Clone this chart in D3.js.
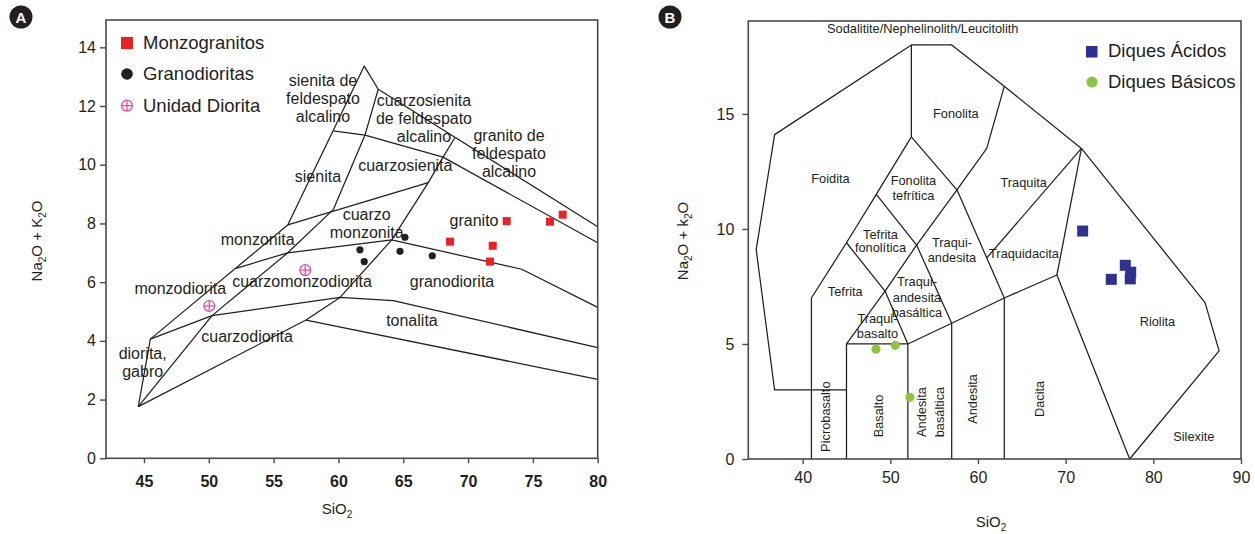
<!DOCTYPE html>
<html><head><meta charset="utf-8">
<script src="https://cdn.jsdelivr.net/npm/d3@7"></script>
<style>
body{margin:0;background:#fff;}
svg text{font-family:"Liberation Sans",Arial,Helvetica,sans-serif;fill:#231f20;}
</style></head><body>
<svg id="chart" width="1255" height="534"></svg>
<script>
// ---------- Panel A: plutonic TAS diagram ----------
const plutXTicks = [45, 50, 55, 60, 65, 70, 75, 80];
const plutYTicks = [0, 2, 4, 6, 8, 10, 12, 14];

const monzogranitoSiO2 = [72.98, 76.32, 77.30, 68.61, 71.90, 71.69];
const monzogranitoAlk  = [8.08, 8.06, 8.30, 7.38, 7.24, 6.70];
const granodioritaSiO2 = [61.66, 61.99, 64.75, 65.13, 67.24];
const granodioritaAlk  = [7.10, 6.70, 7.05, 7.53, 6.90];
const dioritaSiO2 = [50.04, 57.44];
const dioritaAlk  = [5.19, 6.41];

// field boundaries (SiO2, Na2O+K2O)
const plutBoundaries = [
  [[44.56,1.76],[45.49,4.06],[56.09,7.95],[61.99,13.36],[63.07,12.57],[80,7.89]],
  [[63.07,12.57],[62.05,11.01],[59.60,8.47],[56.09,7.00],[50.25,4.86],[44.56,1.76]],
  [[45.49,4.06],[50.25,4.86],[60.12,5.48],[64.23,5.37],[80,3.77]],
  [[52.10,6.47],[56.09,7.00],[64.11,7.44],[74.14,6.44],[80,5.14]],
  [[44.56,1.76],[57.50,4.71],[60.12,5.48],[64.11,7.44],[66.93,9.39],[68.07,10.26],[68.98,10.92]],
  [[56.09,7.95],[66.93,9.39]],
  [[59.60,11.15],[62.05,11.01],[68.07,10.26],[80,7.34]],
  [[57.50,4.71],[80,2.69]]
];

const plutFieldNames = [
  ["sienita de","feldespato","alcalino"],
  ["cuarzosienita","de feldespato","alcalino"],
  ["granito de","feldespato","alcalino"],
  ["sienita"],
  ["cuarzosienita"],
  ["cuarzo","monzonita"],
  ["granito"],
  ["monzonita"],
  ["monzodiorita"],
  ["cuarzomonzodiorita"],
  ["granodiorita"],
  ["cuarzodiorita"],
  ["tonalita"],
  ["diorita,","gabro"]
];
const plutFieldSiO2 = [58.81, 66.60, 73.16, 58.42, 65.16, 62.18, 70.46, 53.77, 47.80, 57.19, 68.76, 52.95, 65.67, 44.90];
const plutFieldAlk  = [12.68, 12.00, 10.81, 9.42, 9.79, 8.12, 7.92, 7.27, 5.60, 5.85, 5.85, 3.97, 4.51, 3.37];

// ---------- Panel B: volcanic TAS diagram ----------
const volcXTicks = [40, 50, 60, 70, 80, 90];
const volcYTicks = [0, 5, 10, 15];

const acidosSiO2 = [71.94, 75.20, 76.80, 77.42, 77.37];
const acidosAlk  = [9.91, 7.81, 8.42, 8.12, 7.83];
const basicosSiO2 = [48.36, 50.56, 52.24];
const basicosAlk  = [4.77, 4.94, 2.68];

const volcBoundaries = [
  [[45,3],[36.8,3],[34.7,9.1],[36.8,14.1],[52.4,18],[57,18],[63,16.2],[71.8,13.5],[85.9,6.8],[87.5,4.7],[77.3,0]],
  [[41,0],[41,7],[45,9.4],[48.4,11.5],[52.4,14],[52.4,18]],
  [[45,0],[45,5],[49.4,7.3],[53,9.3],[57.6,11.7],[61,13.5],[63,16.2]],
  [[45,5],[52,5],[57,5.9],[63,7],[69,8],[77.3,0]],
  [[52,0],[52,5]],
  [[57,0],[57,5.9]],
  [[63,0],[63,7]],
  [[49.4,7.3],[52,5]],
  [[45,9.4],[49.4,7.3]],
  [[48.4,11.5],[53,9.3],[57,5.9]],
  [[52.4,14],[57.6,11.7],[63,7]],
  [[69,8],[71.8,13.5]],
  [[71.8,13.5],[61,8.74]]
];

const volcFieldNames = [
  ["Sodalitite/Nephelinolith/Leucitolith"],
  ["Fonolita"],
  ["Foidita"],
  ["Fonolita","tefrítica"],
  ["Traquita"],
  ["Tefrita","fonolítica"],
  ["Traqui-","andesita"],
  ["Traquidacita"],
  ["Tefrita"],
  ["Traqui-","andesita","basáltica"],
  ["Traqui-","basalto"],
  ["Riolita"],
  ["Silexite"]
];
const volcFieldSiO2 = [53.70, 57.47, 43.17, 52.64, 65.21, 48.88, 57.03, 65.25, 44.86, 53.04, 48.53, 80.47, 84.62];
const volcFieldAlk  = [18.51, 14.81, 12.01, 11.91, 11.84, 9.55, 9.22, 8.73, 7.10, 7.52, 5.93, 5.78, 0.80];
const volcFieldLead = [0, 0, 0, 15, 0, 12.6, 15, 0, 0, 15.5, 15.3, 0, 0];

const volcVerticalNames = ["Picrobasalto", "Basalto", "Andesita", "basáltica", "Andesita", "Dacita"];
const volcVerticalSiO2 = [42.66, 48.70, 53.61, 55.66, 59.43, 67.07];
const volcVerticalAlk  = [1.84, 1.87, 2.04, 2.04, 2.61, 2.61];

// ---------- drawing ----------
const svg = d3.select("#chart");
const ink = "#231f20";
const frameColor = "#4a4a4a";

const xA = d3.scaleLinear().domain([42.07, 80]).range([106, 597.7]);
const yA = d3.scaleLinear().domain([0, 14.93]).range([458.3, 20]);
const xB = d3.scaleLinear().domain([33.8, 90]).range([748.3, 1241]);
const yB = d3.scaleLinear().domain([0, 19.04]).range([459, 21]);

function frame(x, y) {
  const [x0, x1] = x.range(), [y0, y1] = y.range();
  svg.append("rect").attr("x", x0).attr("y", y1).attr("width", x1 - x0).attr("height", y0 - y1)
    .attr("fill", "none").attr("stroke", frameColor).attr("stroke-width", 1.6);
}

function axes(x, y, xt, yt, boldX, padX, padY) {
  const gx = svg.append("g").attr("transform", `translate(0,${y.range()[0]})`)
    .call(d3.axisBottom(x).tickValues(xt).tickSize(5).tickPadding(padX).tickFormat(d3.format("d")));
  gx.select(".domain").remove();
  gx.selectAll("line").attr("stroke", frameColor).attr("stroke-width", 1.4);
  gx.selectAll("text").attr("font-size", 16).attr("fill", ink)
    .attr("font-family", "Liberation Sans, Arial, sans-serif")
    .attr("font-weight", boldX ? "bold" : "normal");
  const gy = svg.append("g").attr("transform", `translate(${x.range()[0]},0)`)
    .call(d3.axisLeft(y).tickValues(yt).tickSize(6).tickPadding(padY).tickFormat(d3.format("d")));
  gy.select(".domain").remove();
  gy.selectAll("line").attr("stroke", frameColor).attr("stroke-width", 1.4);
  gy.selectAll("text").attr("font-size", 16).attr("fill", ink)
    .attr("font-family", "Liberation Sans, Arial, sans-serif");
}

function boundaries(list, x, y) {
  const line = d3.line().x(d => x(d[0])).y(d => y(d[1]));
  svg.append("g").selectAll("path").data(list).join("path")
    .attr("d", line).attr("fill", "none").attr("stroke", ink)
    .attr("stroke-width", 1.25).attr("stroke-linejoin", "round");
}

function fieldLabels(names, sx, sy, lead, x, y, size) {
  const g = svg.append("g").attr("font-size", size).attr("text-anchor", "middle");
  names.forEach((lines, i) => {
    const t = g.append("text").attr("x", x(sx[i])).attr("y", y(sy[i]));
    lines.forEach((s, j) => {
      t.append("tspan").attr("x", x(sx[i])).attr("dy", j === 0 ? 0 : lead[i]).text(s);
    });
  });
}

function axisTitle(cx, cy, rotate, parts) {
  const t = svg.append("text").attr("font-size", 15).attr("text-anchor", "middle")
    .attr("transform", `translate(${cx},${cy})` + (rotate ? " rotate(-90)" : ""));
  parts.forEach(p => {
    t.append("tspan").attr("font-size", p.sub ? 10 : 15).attr("dy", p.sub ? 4 : (p.after ? -4 : 0)).text(p.s);
  });
}

function circlePlus(g, cx, cy, r, color) {
  g.append("circle").attr("cx", cx).attr("cy", cy).attr("r", r)
    .attr("fill", "none").attr("stroke", color).attr("stroke-width", 1.3);
  g.append("line").attr("x1", cx - r).attr("x2", cx + r).attr("y1", cy).attr("y2", cy)
    .attr("stroke", color).attr("stroke-width", 1.3);
  g.append("line").attr("x1", cx).attr("x2", cx).attr("y1", cy - r).attr("y2", cy + r)
    .attr("stroke", color).attr("stroke-width", 1.3);
}

function panelBadge(cx, cy, letter) {
  svg.append("circle").attr("cx", cx).attr("cy", cy).attr("r", 11.5).attr("fill", ink);
  svg.append("text").attr("x", cx).attr("y", cy + 5.5).attr("text-anchor", "middle")
    .attr("font-size", 15).attr("font-weight", "bold").style("fill", "#fff").text(letter);
}

const red = "#ed2024", black = "#231f20", pink = "#ec4c9b", navy = "#2e3192", green = "#8cc63f";

// Panel A
boundaries(plutBoundaries, xA, yA);
fieldLabels(plutFieldNames, plutFieldSiO2, plutFieldAlk,
  plutFieldNames.map(n => n[0] === "diorita," ? 17.4 : 18), xA, yA, 16);
frame(xA, yA);
axes(xA, yA, plutXTicks, plutYTicks, true, 12, 4);

const gA = svg.append("g");
gA.selectAll("rect.mg").data(d3.zip(monzogranitoSiO2, monzogranitoAlk)).join("rect")
  .attr("x", d => xA(d[0]) - 4).attr("y", d => yA(d[1]) - 4)
  .attr("width", 8).attr("height", 8).attr("fill", red);
gA.selectAll("circle.gd").data(d3.zip(granodioritaSiO2, granodioritaAlk)).join("circle")
  .attr("cx", d => xA(d[0])).attr("cy", d => yA(d[1])).attr("r", 3.6).attr("fill", black);
d3.zip(dioritaSiO2, dioritaAlk).forEach(d => circlePlus(gA, xA(d[0]), yA(d[1]), 5.4, pink));

// legend A
const legA = svg.append("g").attr("font-size", 18.5);
legA.append("rect").attr("x", 121).attr("y", 37).attr("width", 12).attr("height", 12).attr("fill", red);
legA.append("text").attr("x", 143).attr("y", 48.5).text("Monzogranitos");
legA.append("circle").attr("cx", 127).attr("cy", 74).attr("r", 5.8).attr("fill", black);
legA.append("text").attr("x", 143).attr("y", 80).text("Granodioritas");
circlePlus(legA, 127, 105.6, 5.4, pink);
legA.append("text").attr("x", 143).attr("y", 111.5).text("Unidad Diorita");

axisTitle(42, 241, true, [{s:"Na"},{s:"2",sub:true},{s:"O + K",after:true},{s:"2",sub:true},{s:"O",after:true}]);
axisTitle(337, 514, false, [{s:"SiO"},{s:"2",sub:true}]);
panelBadge(21, 17, "A");

// Panel B
boundaries(volcBoundaries, xB, yB);
fieldLabels(volcFieldNames, volcFieldSiO2, volcFieldAlk, volcFieldLead, xB, yB, 12.8);
const gV = svg.append("g").attr("font-size", 12.8).attr("text-anchor", "middle");
volcVerticalNames.forEach((s, i) => {
  gV.append("text").attr("transform", `translate(${xB(volcVerticalSiO2[i])},${yB(volcVerticalAlk[i])}) rotate(-90)`)
    .attr("dy", "0.35em").text(s);
});
frame(xB, yB);
axes(xB, yB, volcXTicks, volcYTicks, false, 8, 8);

const gB = svg.append("g");
gB.selectAll("rect").data(d3.zip(acidosSiO2, acidosAlk)).join("rect")
  .attr("x", d => xB(d[0]) - 5.5).attr("y", d => yB(d[1]) - 5.5)
  .attr("width", 11).attr("height", 11).attr("fill", navy);
gB.selectAll("circle").data(d3.zip(basicosSiO2, basicosAlk)).join("circle")
  .attr("cx", d => xB(d[0])).attr("cy", d => yB(d[1])).attr("r", 4.6).attr("fill", green);

// legend B
const legB = svg.append("g").attr("font-size", 18.5);
legB.append("rect").attr("x", 1086).attr("y", 46).attr("width", 11.5).attr("height", 11.5).attr("fill", navy);
legB.append("text").attr("x", 1108).attr("y", 57).text("Diques Ácidos");
legB.append("circle").attr("cx", 1092).attr("cy", 82).attr("r", 5.6).attr("fill", green);
legB.append("text").attr("x", 1108).attr("y", 88).text("Diques Básicos");

axisTitle(688, 241, true, [{s:"Na"},{s:"2",sub:true},{s:"O + k",after:true},{s:"2",sub:true},{s:"O",after:true}]);
axisTitle(991, 527, false, [{s:"SiO"},{s:"2",sub:true}]);
panelBadge(670, 17, "B");
</script>
</body></html>
